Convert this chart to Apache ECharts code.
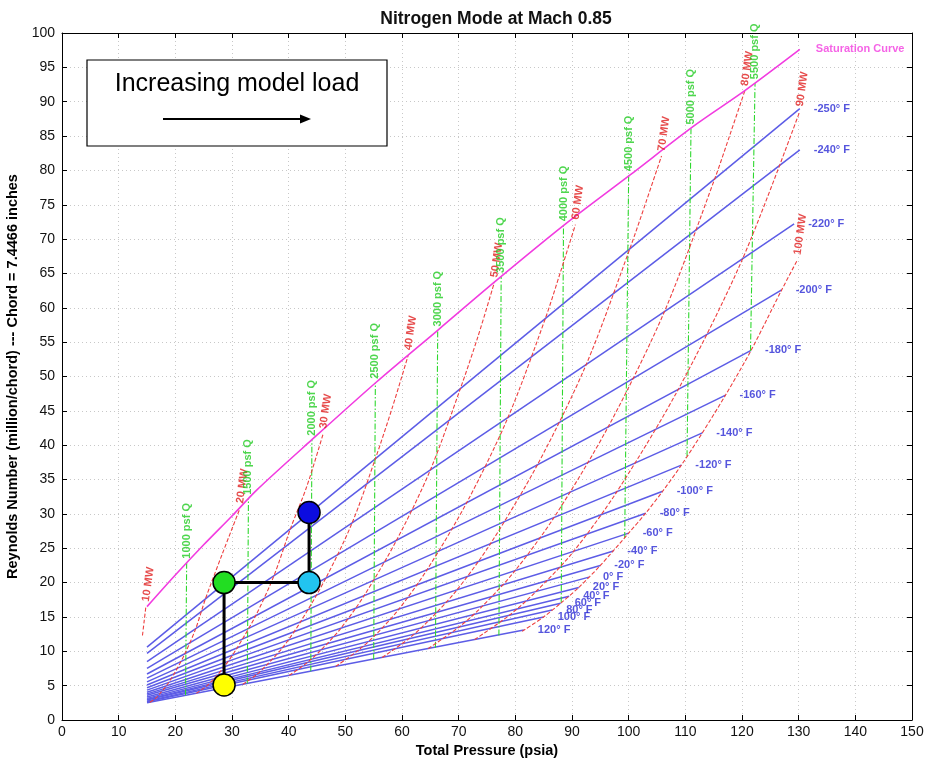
<!DOCTYPE html>
<html><head><meta charset="utf-8">
<script src="https://cdn.jsdelivr.net/npm/echarts@6/dist/echarts.min.js"></script>
<style>html,body{margin:0;padding:0;background:#fff}#c{width:930px;height:764px}</style>
</head><body><div id="c"></div>
<script>
// ---- axis ticks ----
const xTickMin = 0, xTickMax = 150, xTickStep = 10;
const yTickMin = 0, yTickMax = 100, yTickStep = 5;

// ---- constant temperature lines (start at 15 psia) ----
const tempLabels = ['-250° F','-240° F','-220° F','-200° F','-180° F','-160° F','-140° F','-120° F','-100° F','-80° F','-60° F','-40° F','-20° F','0° F','20° F','40° F','60° F','80° F','100° F','120° F'];
const tempStartX = 15;
const tempStartY = [10.6, 9.7, 8.5, 7.5, 6.7, 6.1, 5.55, 5.1, 4.7, 4.35, 4.05, 3.8, 3.6, 3.35, 3.15, 3.0, 2.9, 2.75, 2.65, 2.5];
const tempEndX   = [130.2, 130.2, 129.2, 127.0, 121.6, 117.1, 113.0, 109.3, 106.0, 103.0, 100.0, 97.3, 95.0, 93.0, 91.2, 89.5, 88.0, 86.5, 85.0, 81.5];
const tempEndY   = [89.0, 83.0, 72.2, 62.6, 53.8, 47.3, 41.8, 37.1, 33.3, 30.1, 27.2, 24.6, 22.5, 20.8, 19.3, 18.0, 17.0, 16.0, 15.0, 13.1];

// ---- saturation curve ----
const satX = [15, 20, 25, 30, 34.4, 44.1, 55.5, 66.4, 76.4, 88.7, 100.2, 111.4, 120.5, 130.2];
const satY = [16.5, 21.1, 25.5, 29.7, 33.5, 40.8, 49.2, 56.8, 63.8, 72.1, 79.3, 86.4, 91.6, 97.6];
const satLabel = 'Saturation Curve';

// ---- constant power curves (MW) ----
const mwLabels = ['10 MW','20 MW','30 MW','40 MW','50 MW','60 MW','70 MW','80 MW','90 MW','100 MW'];
const mw10  = [[14.2,12.3],[14.5,14.4],[14.8,16.5]];
const mw20  = [[15.5,2.58],[16.6,3.21],[17.3,3.86],[18.4,4.97],[19.8,6.73],[21.7,9.67],[23.6,13.3],[25.3,17.6],[28.3,24.2],[31.4,30.8]];
const mw30  = [[23.7,3.88],[25.5,4.93],[26.8,5.97],[28.6,7.71],[30.9,10.49],[34.2,15.22],[37.4,20.99],[40.3,27.82],[43.2,34.0],[46.1,41.7]];
const mw40  = [[31.9,5.19],[34.4,6.65],[36.2,8.07],[38.9,10.49],[42.1,14.29],[46.6,20.72],[51.2,28.69],[55.3,38.03],[58.3,45.5],[61.1,53.1]];
const mw50  = [[40.1,6.49],[43.3,8.37],[45.7,10.18],[49.1,13.24],[53.3,18.08],[59.1,26.26],[65.0,36.39],[70.3,48.24],[73.4,55.8],[76.3,63.7]];
const mw60  = [[48.3,7.80],[52.2,10.09],[55.2,12.29],[59.3,15.98],[64.4,21.85],[71.5,31.76],[78.7,44.03],[85.3,58.45],[88.0,65.3],[90.6,72.1]];
const mw70  = [[56.5,9.10],[61.2,11.84],[64.6,14.38],[69.5,18.73],[75.6,25.64],[84.0,37.31],[92.5,51.73],[100.2,68.59],[103.1,75.5],[105.8,82.1]];
const mw80  = [[64.6,10.39],[70.1,13.56],[74.1,16.49],[79.7,21.48],[86.8,29.44],[96.5,42.85],[106.3,59.43],[115.2,78.8],[118.0,85.5],[120.5,91.6]];
const mw90  = [[72.8,11.70],[79.0,15.28],[83.5,18.58],[90.0,24.26],[97.9,33.20],[108.9,48.35],[120.1,67.12],[130.2,88.6]];
const mw100 = [[81.2,12.9],[85.0,15.0],[88.0,17.0],[91.2,19.3],[95.0,22.5],[100.0,27.2],[103.0,30.1],[106.0,33.3],[109.3,37.1],[113.0,41.8],[117.1,47.3],[121.6,53.8],[127.0,62.6],[129.8,67.0]];
const mwCurves = [mw10, mw20, mw30, mw40, mw50, mw60, mw70, mw80, mw90, mw100];

// ---- constant dynamic pressure lines (psf Q) ----
const qLabels  = ['1000 psf Q','1500 psf Q','2000 psf Q','2500 psf Q','3000 psf Q','3500 psf Q','4000 psf Q','4500 psf Q','5000 psf Q','5500 psf Q'];
const qBottomX = [21.8, 32.7, 43.9, 55.0, 65.9, 77.1, 88.1, 99.3, 110.3, 121.5];
const qBottomY = [3.6, 5.3, 7.1, 8.8, 10.5, 12.3, 17.1, 26.5, 38.4, 53.7];
const qTopX    = [22.0, 32.9, 44.1, 55.3, 66.3, 77.5, 88.5, 100.0, 111.0, 122.3];
const qTopY    = [22.9, 32.2, 40.8, 49.1, 56.7, 64.5, 72.0, 79.3, 86.1, 92.7];

// ---- test points path ----
const pathX = [28.6, 28.6, 43.6, 43.6];
const pathY = [5.1, 20.0, 20.0, 30.2];
const pathColors = ['#ffff00', '#22dd22', '#22c4f0', '#0c0ce0'];

const titleText = 'Nitrogen Mode at Mach 0.85';
const xName = 'Total Pressure (psia)';
const yName = 'Reynolds Number (million/chord) --- Chord = 7.4466 inches';
const boxText = 'Increasing model load';

// ---- styles ----
const FONT = 'Liberation Sans, Arial, sans-serif';
const BLUE_LINE = '#5c5ce6', BLUE_TXT = '#2a2ad4';
const RED_LINE = '#ee4040', RED_TXT = '#e01e1e';
const GREEN_LINE = '#2fd82f', GREEN_TXT = '#22cc22';
const MAG = '#f23ce0';

const series = [];
tempLabels.forEach((t, i) => {
  series.push({
    type: 'line', data: [[tempStartX, tempStartY[i]], [tempEndX[i], tempEndY[i]]],
    symbol: 'none', silent: true, z: 2,
    lineStyle: { color: BLUE_LINE, width: 1.5 }
  });
});
qLabels.forEach((q, i) => {
  series.push({
    type: 'line', data: [[qBottomX[i], qBottomY[i]], [qTopX[i], qTopY[i]]],
    symbol: 'none', silent: true, z: 3,
    lineStyle: { color: GREEN_LINE, width: 1.1, type: [6, 2, 1.5, 2] }
  });
});
mwCurves.forEach((pts) => {
  series.push({
    type: 'line', data: pts, smooth: 0.3, symbol: 'none', silent: true, z: 4,
    lineStyle: { color: RED_LINE, width: 1.1, type: [4, 2] }
  });
});
series.push({
  type: 'line', data: satX.map((x, i) => [x, satY[i]]), smooth: 0.3, symbol: 'none', silent: true, z: 5,
  lineStyle: { color: MAG, width: 1.6 }
});
series.push({
  type: 'scatter', symbolSize: 0, silent: true, z: 6,
  data: tempLabels.map((t, i) => [tempEndX[i], tempEndY[i], t]),
  label: { show: true, position: 'right', distance: 14, formatter: p => p.value[2],
    color: BLUE_TXT, fontSize: 11, fontWeight: 'bold', fontFamily: FONT }
});
series.push({
  type: 'scatter', symbolSize: 0, silent: true, z: 6,
  data: mwCurves.map((pts, i) => [pts[pts.length - 1][0], pts[pts.length - 1][1], mwLabels[i]]),
  label: { show: true, position: [0, -5], align: 'left', verticalAlign: 'middle', rotate: 82,
    formatter: p => p.value[2], color: RED_TXT, fontSize: 11, fontWeight: 'bold', fontFamily: FONT }
});
series.push({
  type: 'scatter', symbolSize: 0, silent: true, z: 6,
  data: qLabels.map((q, i) => [qTopX[i], qTopY[i], q]),
  label: { show: true, position: [0, -4], align: 'left', verticalAlign: 'middle', rotate: 90,
    formatter: p => p.value[2], color: GREEN_TXT, fontSize: 11, fontWeight: 'bold', fontFamily: FONT }
});
series.push({
  type: 'scatter', symbolSize: 0, silent: true, z: 6,
  data: [[satX[satX.length - 1], satY[satY.length - 1], satLabel]],
  label: { show: true, position: 'right', distance: 16, offset: [0, -1], formatter: p => p.value[2],
    color: MAG, fontSize: 11, fontWeight: 'bold', fontFamily: FONT }
});
series.push({
  type: 'line', data: pathX.map((x, i) => [x, pathY[i]]), symbol: 'none', silent: true, z: 10,
  lineStyle: { color: '#000', width: 3 }
});
series.push({
  type: 'scatter', silent: true, z: 11, symbolSize: 22,
  data: pathX.map((x, i) => ({ value: [x, pathY[i]], itemStyle: { color: pathColors[i] } })),
  itemStyle: { borderColor: '#000', borderWidth: 1.5, opacity: 1 }
});

const tickStyle = { inside: true, length: 5, lineStyle: { color: '#000', width: 1 } };
const lineBlack = { onZero: false, lineStyle: { color: '#000', width: 1 } };
const gridDots = { show: true, lineStyle: { color: '#c8c8c8', width: 1, type: [1, 3] } };

const option = {
  animation: false,
  backgroundColor: '#fff',
  textStyle: { fontFamily: FONT },
  title: { text: titleText, left: 491, textAlign: 'center', top: 5,
    textStyle: { fontSize: 17.5, fontWeight: 'bold', color: '#111', fontFamily: FONT } },
  grid: { left: 62, right: 18, top: 33, bottom: 44, containLabel: false, outerBoundsMode: 'none' },
  xAxis: [
    { type: 'value', min: xTickMin, max: xTickMax, interval: xTickStep, position: 'bottom',
      axisLine: lineBlack, axisTick: tickStyle, splitLine: gridDots,
      axisLabel: { color: '#111', fontSize: 14, margin: 5, fontFamily: FONT },
      name: xName, nameLocation: 'middle', nameGap: 22,
      nameTextStyle: { fontWeight: 'bold', fontSize: 14.5, color: '#000', fontFamily: FONT } },
    { type: 'value', min: xTickMin, max: xTickMax, interval: xTickStep, position: 'top',
      axisLine: lineBlack, axisTick: tickStyle, splitLine: { show: false }, axisLabel: { show: false } }
  ],
  yAxis: [
    { type: 'value', min: yTickMin, max: yTickMax, interval: yTickStep, position: 'left',
      axisLine: lineBlack, axisTick: tickStyle, splitLine: gridDots,
      axisLabel: { color: '#111', fontSize: 14, margin: 7, fontFamily: FONT },
      name: yName, nameLocation: 'middle', nameGap: 32,
      nameTextStyle: { fontWeight: 'bold', fontSize: 14.5, color: '#000', fontFamily: FONT } },
    { type: 'value', min: yTickMin, max: yTickMax, interval: yTickStep, position: 'right',
      axisLine: lineBlack, axisTick: tickStyle, splitLine: { show: false }, axisLabel: { show: false } }
  ],
  graphic: [
    { type: 'rect', shape: { x: 87, y: 60, width: 300, height: 86 }, z: 20,
      style: { fill: '#fff', stroke: '#000', lineWidth: 1.2 } },
    { type: 'text', x: 237, y: 84, z: 21,
      style: { text: boxText, fill: '#000', font: '25px ' + FONT, align: 'center', verticalAlign: 'middle' } },
    { type: 'line', shape: { x1: 163, y1: 119, x2: 302, y2: 119 }, z: 21,
      style: { stroke: '#000', lineWidth: 2 } },
    { type: 'polygon', shape: { points: [[300, 114.5], [311, 119], [300, 123.5]] }, z: 21,
      style: { fill: '#000' } }
  ],
  series: series
};
const chart = echarts.init(document.getElementById('c'));
chart.setOption(option);
</script>
</body></html>
